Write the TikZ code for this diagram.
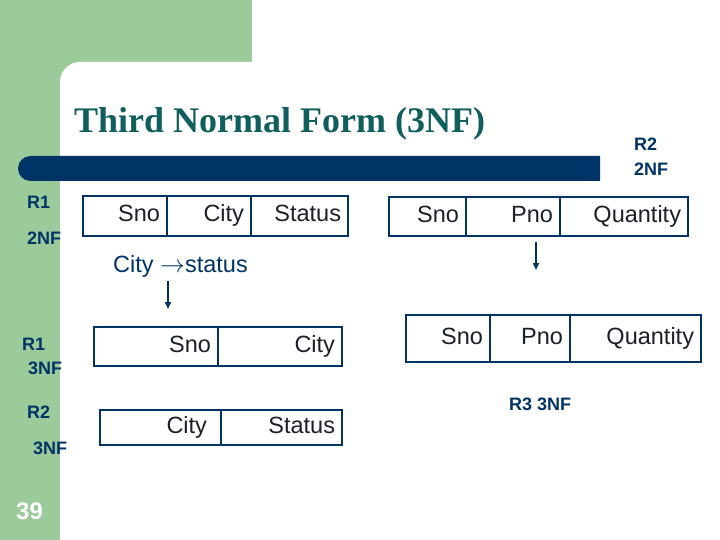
\documentclass[tikz,border=0pt]{standalone}
\usepackage{xcolor}
\definecolor{sage}{RGB}{155,203,155}
\definecolor{navy}{RGB}{0,51,102}
\definecolor{titleteal}{RGB}{16,94,94}
\definecolor{ink}{RGB}{28,32,40}
\usepackage{fontspec}
\setmainfont{Liberation Sans}
\newfontfamily\titlefont{Liberation Serif}
\usepackage{tikz}
\usetikzlibrary{positioning}
\usetikzlibrary{arrows.meta}
\newcommand{\cellfont}{\fontsize{23.5}{28}\selectfont}
\newcommand{\tagfont}{\bfseries\fontsize{18}{20}\selectfont}
\tikzset{
  cell/.style={draw=navy,line width=2.8pt,outer sep=0pt,inner xsep=7pt,inner ysep=0pt,
    align=right,text=ink,font=\cellfont,text height=17pt,text depth=5pt},
  tag/.style={anchor=base west,inner sep=0pt,text=navy,font=\tagfont},
  fdarrow/.style={draw=navy,line width=1.6pt,-{Triangle[width=6pt,length=7pt]}}
}

\begin{document}
\begin{tikzpicture}[x=1pt,y=-1pt]
\useasboundingbox (0,0) rectangle (720,540);
% slide background
\fill[white] (0,0) rectangle (720,540);
\fill[sage] (0,0) rectangle (252,540);
\fill[white,rounded corners=20pt] (60,540) -- (60,62) -- (720,62) [sharp corners] -- (720,540) -- cycle;
\fill[navy,rounded corners=12.5pt] (600,156) -- (18,156) -- (18,181) -- (600,181);
\node (title) at (74,133) [anchor=base west,inner sep=0pt,text=titleteal,font=\titlefont\bfseries\fontsize{36}{40}\selectfont] {Third Normal Form (3NF)};
\node (num) at (16,519) [anchor=base west,inner sep=0pt,text=white,font=\bfseries\fontsize{24}{26}\selectfont] {39};
% R1 2NF
\node (r1a) at (27,208) [tag] {R1};
\node (r1b) at (27,244) [tag] {2NF};
\node (r1nf2-1) at (83,196) [cell,anchor=north west,minimum height=40pt,text width=70pt] {Sno};
\node (r1nf2-2) [cell,right=0pt of r1nf2-1,text width=70pt,minimum height=40pt] {City};
\node (r1nf2-3) [cell,right=0pt of r1nf2-2,text width=83pt,minimum height=40pt] {Status};
% R2 2NF
\node (r2a) at (634,151) [tag] {R2};
\node (r2b) at (634,176) [tag] {2NF};
\node (r2nf2-1) at (389,197) [cell,anchor=north west,minimum height=39pt,text width=63pt] {Sno};
\node (r2nf2-2) [cell,right=0pt of r2nf2-1,text width=80pt,minimum height=39pt] {Pno};
\node (r2nf2-3) [cell,right=0pt of r2nf2-2,text width=114pt,minimum height=39pt] {Quantity};
% dependency
\node (fd) at (113,272) [anchor=base west,inner sep=0pt,text=navy,font=\cellfont] {City $\rightarrow$status};
\coordinate (fdtop) at (168,281);
\coordinate (fdend) at (168,309);
\draw[fdarrow] (fdtop) -- (fdend);
\coordinate (pnotop) at (536,242);
\coordinate (pnoend) at (536,270);
\draw[fdarrow] (pnotop) -- (pnoend);
% R1 3NF
\node (r1c) at (22,350) [tag] {R1};
\node (r1d) at (28,374) [tag] {3NF};
\node (r1nf3-1) at (94,327) [cell,anchor=north west,minimum height=39pt,text width=110pt] {Sno};
\node (r1nf3-2) [cell,right=0pt of r1nf3-1,text width=110pt,minimum height=39pt] {City};
% R2 3NF
\node (r2c) at (27,418) [tag] {R2};
\node (r2d) at (33,454) [tag] {3NF};
\node (r2nf3-1) at (100,410) [cell,anchor=north west,minimum height=35pt,text width=107pt] {City\kern7pt};
\node (r2nf3-2) [cell,right=0pt of r2nf3-1,text width=107pt,minimum height=35pt] {Status};
% R3 3NF
\node (r3nf3-1) at (406,315) [cell,anchor=north west,minimum height=47pt,text width=70pt] {Sno};
\node (r3nf3-2) [cell,right=0pt of r3nf3-1,text width=66pt,minimum height=47pt] {Pno};
\node (r3nf3-3) [cell,right=0pt of r3nf3-2,text width=117pt,minimum height=47pt] {Quantity};
\node (r3) at (509,410) [tag] {R3 3NF};
\end{tikzpicture}
\end{document}
